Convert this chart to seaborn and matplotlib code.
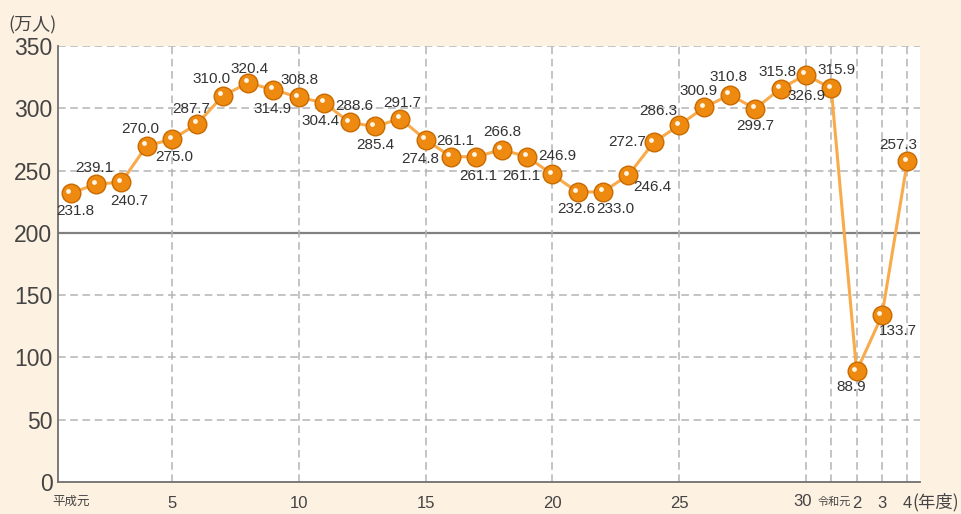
import numpy as np
import pandas as pd
import seaborn as sns
import matplotlib.pyplot as plt
from matplotlib.transforms import offset_copy

# data
years = list(range(1, 35))
visitors = [231.8, 239.1, 240.7, 270.0, 275.0, 287.7, 310.0, 320.4, 314.9, 308.8,
            304.4, 288.6, 285.4, 291.7, 274.8, 261.1, 261.1, 266.8, 261.1, 246.9,
            232.6, 233.0, 246.4, 272.7, 286.3, 300.9, 310.8, 299.7, 315.8, 326.9,
            315.9, 88.9, 133.7, 257.3]
tick_pos = [1, 5, 10, 15, 20, 25, 30, 31, 32, 33, 34]
tick_labels = ["平成元", "5", "10", "15", "20", "25", "30", "令和元", "2", "3", "4"]
y_ticks = [0, 50, 100, 150, 200, 250, 300, 350]

# label offsets in pixels (dx, dy downward)
label_off = [(5, 18), (-2, -16), (8, 19), (-6, -17), (2, 18), (-6, -15), (-11, -17),
             (1, -14), (-1, 19), (1, -17), (-4, 18), (5, -16), (0, 19), (2, -16),
             (-5, 19), (4, -16), (2, 19), (1, -18), (-6, 19), (5, -18), (-1, 17),
             (12, 17), (24, 12), (-27, 0), (-21, -14), (-6, -16), (-1, -18), (0, 17),
             (-3, -17), (1, 21), (5, -18), (-5, 16), (16, 16), (-9, -16)]

df = pd.DataFrame({"year": years, "value": visitors})

sns.set_theme(style="white")
plt.rcParams["font.family"] = ["Liberation Sans", "Noto Sans CJK JP", "DejaVu Sans"]

bg = "#fdf1e1"
fig = plt.figure(figsize=(9.62, 5.14), dpi=100, facecolor=bg)
ax = fig.add_axes([58 / 962, 32 / 514, (920 - 58) / 962, (482 - 46) / 514])
ax.set_facecolor("white")

grid_kw = dict(color="#b4b4b4", linewidth=1.1, linestyle=(0, (5, 3)), zorder=1)
for y in y_ticks[1:]:
    if y == 200:
        ax.axhline(y, color="#808080", linewidth=1.6, zorder=1)
    else:
        ax.axhline(y, **grid_kw)
for x in tick_pos[1:]:
    ax.axvline(x, **grid_kw)

sns.lineplot(data=df, x="year", y="value", color="#f9ab4c", linewidth=2.2, ax=ax, zorder=2)
sns.scatterplot(data=df, x="year", y="value", s=180, color="#ee8a10",
                edgecolor="#c96a00", linewidth=1.0, ax=ax, zorder=3)
# highlight on spheres
hl = offset_copy(ax.transData, fig=fig, x=-2.5, y=2.5, units="dots")
ax.scatter(df["year"], df["value"], s=12, color="#fff6e6", linewidths=0,
           transform=hl, zorder=4)

for i, (x, v) in enumerate(zip(years, visitors)):
    dx, dy = label_off[i]
    ax.annotate(f"{v:.1f}", (x, v), xytext=(dx * 0.72, -dy * 0.72),
                textcoords="offset points", ha="center", va="center",
                fontsize=11, color="#333333", zorder=5)

ax.set_xlim(0.5, 34.5)
ax.set_ylim(0, 350)
ax.set_yticks(y_ticks)
ax.set_yticklabels([str(y) for y in y_ticks], fontsize=16.5, color="#444444")

# "30" and "令和元" sit close together, so they are placed by hand with a nudge
nudge = {"30": -3, "令和元": 3}
ax.set_xticks(tick_pos)
ax.set_xticklabels(["" if t in nudge else t for t in tick_labels], fontsize=12, color="#444444")
for lab in ax.get_xticklabels():
    if lab.get_text() == "平成元":
        lab.set_fontsize(9)
for p, t in zip(tick_pos, tick_labels):
    if t in nudge:
        ax.annotate(t, (p, 0), xycoords=("data", "axes fraction"),
                    xytext=(nudge[t] * 0.72, -20 * 0.72), textcoords="offset points",
                    ha="center", va="center", color="#444444",
                    fontsize=8 if t == "令和元" else 12)
ax.tick_params(axis="x", length=0, pad=10)
ax.tick_params(axis="y", length=0, pad=4)
ax.set_xlabel("")
ax.set_ylabel("")

for s in ["top", "right"]:
    ax.spines[s].set_visible(False)
ax.spines["left"].set_color("#707070")
ax.spines["left"].set_linewidth(1.3)
ax.spines["bottom"].set_color("#707070")
ax.spines["bottom"].set_linewidth(1.3)

fig.text(33 / 962, 1 - 25 / 514, "(万人)", fontsize=13, color="#444444",
         ha="center", va="center", family=["Noto Sans CJK JP", "DejaVu Sans"])
fig.text(959 / 962, 1 - 502 / 514, "(年度)", fontsize=12.5, color="#444444",
         ha="right", va="center", family=["Noto Sans CJK JP", "DejaVu Sans"])

fig.savefig("out.png", dpi=100, facecolor=bg)
